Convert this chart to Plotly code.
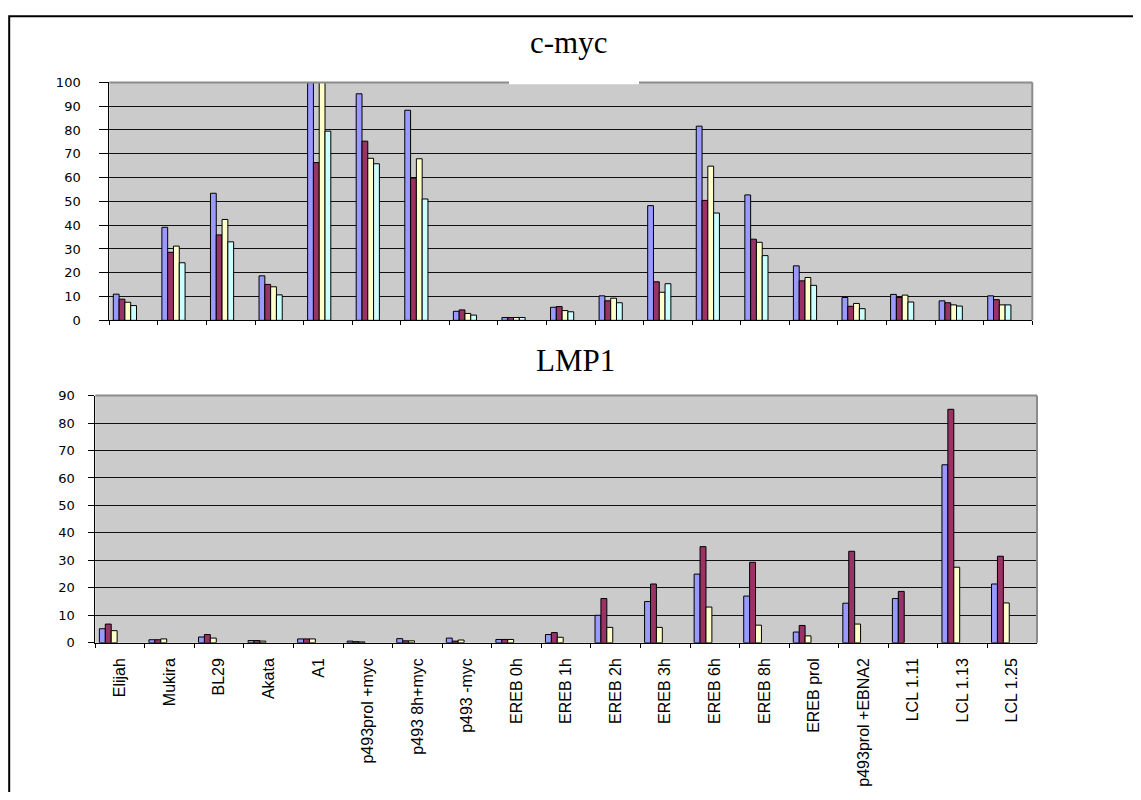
import plotly.graph_objects as go

categories = ["Elijah", "Mukira", "BL29", "Akata", "A1", "p493prol +myc", "p493 8h+myc",
              "p493 -myc", "EREB 0h", "EREB 1h", "EREB 2h", "EREB 3h", "EREB 6h", "EREB 8h",
              "EREB prol", "p493prol +EBNA2", "LCL 1.11", "LCL 1.13", "LCL 1.25"]

# c-myc (4 series)
myc_s1 = [11.0, 39.1, 53.4, 18.7, 110.0, 95.2, 88.3, 3.8, 1.2, 5.5, 10.3, 48.2, 81.6, 52.7, 22.9, 9.6, 10.9, 8.2, 10.3]
myc_s2 = [8.9, 28.6, 35.9, 15.1, 66.3, 75.3, 59.8, 4.4, 1.2, 5.8, 8.2, 16.2, 50.4, 34.1, 16.6, 5.9, 9.6, 7.4, 8.7]
myc_s3 = [7.6, 31.2, 42.4, 14.1, 104.0, 68.1, 67.9, 2.9, 1.2, 4.1, 9.3, 11.8, 64.8, 32.8, 18.0, 7.1, 10.6, 6.5, 6.5]
myc_s4 = [6.2, 24.2, 33.0, 10.7, 79.5, 65.8, 51.0, 2.2, 1.2, 3.6, 7.4, 15.4, 45.1, 27.2, 14.7, 4.9, 7.7, 6.0, 6.5]

# LMP1 (3 series)
lmp_s1 = [5.1, 1.1, 2.1, 0.8, 1.4, 0.6, 1.5, 1.7, 1.2, 3.0, 10.0, 15.0, 25.0, 17.0, 3.9, 14.4, 16.1, 64.8, 21.4]
lmp_s2 = [6.8, 1.1, 3.0, 0.8, 1.4, 0.4, 0.7, 0.6, 1.2, 3.7, 16.1, 21.4, 35.0, 29.3, 6.3, 33.3, 18.7, 85.0, 31.5]
lmp_s3 = [4.4, 1.4, 1.7, 0.6, 1.4, 0.3, 0.7, 1.0, 1.2, 2.0, 5.6, 5.6, 13.0, 6.4, 2.5, 6.8, None, 27.5, 14.5]

myc_ticks = list(range(0, 101, 10))
lmp_ticks = list(range(0, 91, 10))

colors = ["#9999FF", "#993366", "#FFFFCC", "#CCFFFF"]

# page has an 8px body margin; figure is sized so that no scrollbars appear
OFF = 8
W, H = 1141 - 2 * OFF, 800 - 2 * OFF
slots = 7
gap = 0.165
bw = (1 - gap) / slots

fig = go.Figure()

for i, (vals, col) in enumerate(zip([myc_s1, myc_s2, myc_s3, myc_s4], colors)):
    fig.add_trace(go.Bar(x=categories, y=vals, xaxis="x", yaxis="y",
                         marker=dict(color=col, line=dict(color="#000000", width=1)),
                         width=bw, offset=-0.5 + gap / 2 + i * bw,
                         name=f"Series {i+1}", showlegend=False))

for i, (vals, col) in enumerate(zip([lmp_s1, lmp_s2, lmp_s3], colors)):
    fig.add_trace(go.Bar(x=categories, y=vals, xaxis="x2", yaxis="y2",
                         marker=dict(color=col, line=dict(color="#000000", width=1)),
                         width=bw, offset=-0.5 + gap / 2 + i * bw,
                         name=f"Series {i+1}", showlegend=False))

def px_x(p):
    return (p - OFF) / W

def px_y(p):
    return 1 - (p - OFF) / H

ytick_font = dict(family="DejaVu Sans", size=13, color="#000000")
xtick_font = dict(family="Liberation Sans", size=16, color="#000000")

fig.update_layout(
    width=W, height=H, autosize=False,
    margin=dict(l=0, r=0, t=0, b=0),
    paper_bgcolor="#FFFFFF", plot_bgcolor="#CBCBCB",
    barmode="overlay",
    xaxis=dict(domain=[px_x(109.3), px_x(1032.3)], anchor="y", type="category",
               categoryorder="array", categoryarray=categories,
               showticklabels=False, ticks="outside", ticklen=4, tickcolor="#000000",
               tickson="boundaries", showline=True, linecolor="#000000", linewidth=1,
               showgrid=False, range=[-0.5, 18.5]),
    yaxis=dict(domain=[px_y(319.3), px_y(76.7)], anchor="x", range=[0, 100],
               tickvals=myc_ticks, ticktext=[str(v) for v in myc_ticks],
               ticks="outside", ticklen=9, tickcolor="#000000", tickfont=ytick_font,
               ticklabelstandoff=16,
               showline=True, linecolor="#000000", linewidth=1,
               showgrid=True, gridcolor="#111111", gridwidth=1, zeroline=False),
    xaxis2=dict(domain=[px_x(95.3), px_x(1037)], anchor="y2", type="category",
                categoryorder="array", categoryarray=categories,
                tickangle=-90, tickfont=xtick_font, ticks="outside", ticklen=4,
                tickcolor="#000000", tickson="boundaries", ticklabelstandoff=8,
                showline=True, linecolor="#000000", linewidth=1,
                showgrid=False, range=[-0.5, 18.5]),
    yaxis2=dict(domain=[px_y(648), px_y(396)], anchor="x2", range=[0, 90],
                tickvals=lmp_ticks, ticktext=[str(v) for v in lmp_ticks],
                ticks="outside", ticklen=6, tickcolor="#000000", tickfont=ytick_font,
                ticklabelstandoff=11,
                showline=True, linecolor="#000000", linewidth=1,
                showgrid=True, gridcolor="#111111", gridwidth=1, zeroline=False),
    annotations=[
        dict(text="c-myc", x=px_x(568.7), y=px_y(36.5), xref="paper", yref="paper",
             xanchor="center", yanchor="middle", showarrow=False,
             font=dict(family="Liberation Serif", size=31, color="#000000")),
        dict(text="LMP1", x=px_x(575), y=px_y(360.5), xref="paper", yref="paper",
             xanchor="center", yanchor="middle", showarrow=False,
             font=dict(family="Liberation Serif", size=31, color="#000000")),
    ],
    shapes=[
        # outer frame (extends past right and bottom edges)
        dict(type="rect", xref="paper", yref="paper", x0=1.2 / W, x1=1.05,
             y0=-0.05, y1=1 - 1.2 / H, line=dict(color="#000000", width=2),
             fillcolor="rgba(0,0,0,0)", layer="above"),
        # plot-area borders (top / right), grey
        dict(type="line", xref="paper", yref="paper", x0=px_x(109.3), x1=px_x(1032.3),
             y0=px_y(76.7), y1=px_y(76.7), line=dict(color="#8c8c8c", width=2), layer="above"),
        dict(type="line", xref="paper", yref="paper", x0=px_x(1032.3), x1=px_x(1032.3),
             y0=px_y(319.3), y1=px_y(76.7), line=dict(color="#8c8c8c", width=2), layer="above"),
        dict(type="line", xref="paper", yref="paper", x0=px_x(95.3), x1=px_x(1037),
             y0=px_y(396), y1=px_y(396), line=dict(color="#8c8c8c", width=2), layer="above"),
        dict(type="line", xref="paper", yref="paper", x0=px_x(1037), x1=px_x(1037),
             y0=px_y(648), y1=px_y(396), line=dict(color="#8c8c8c", width=2), layer="above"),
        # white title box overlapping top edge of c-myc plot area
        dict(type="rect", xref="paper", yref="paper", x0=px_x(509), x1=px_x(639),
             y0=px_y(78.5), y1=px_y(66), line=dict(width=0), fillcolor="#FFFFFF", layer="above"),
    ],
)

fig.write_html("out.html")
